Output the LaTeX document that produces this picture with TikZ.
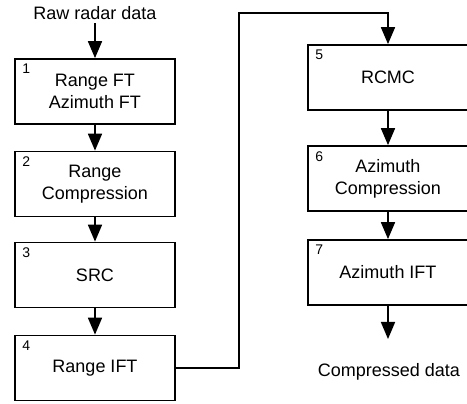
\documentclass[tikz,border=0pt]{standalone}
\usepackage{fontspec}
\setmainfont{Liberation Sans}
\usetikzlibrary{arrows.meta}

\tikzset{
  stepbox/.style={draw=black, line width=1.8pt, minimum width=160pt, minimum height=65pt,
    align=center, font=\fontsize{18}{22}\selectfont, inner sep=0pt},
  nr/.style={anchor=north west, font=\fontsize{14}{15}\selectfont, inner sep=0pt},
  flow/.style={draw=black, line width=1.8pt, -{Triangle[length=17pt,width=14pt]}},
}

\begin{document}
\begin{tikzpicture}[x=1pt, y=1pt]

\useasboundingbox (0,0) rectangle (467,-404);

% Entrada
\node[font=\fontsize{18}{22}\selectfont] (raw) at (95,-13) {Raw radar data};

% Columna izquierda
\node[stepbox] (b1) at (95,-91.5) {Range FT\\Azimuth FT};
\node[stepbox] (b2) at (95,-184) {Range\\Compression};
\node[stepbox] (b3) at (95,-275) {SRC};
\node[stepbox] (b4) at (95,-368) {Range IFT};

% Columna derecha
\node[stepbox] (b5) at (388,-77.5) {RCMC};
\node[stepbox] (b6) at (388,-178.5) {Azimuth\\Compression};
\node[stepbox] (b7) at (388,-272.5) {Azimuth IFT};

% Salida
\node[font=\fontsize{18}{22}\selectfont] (out) at (389,-372) {Compressed data};

% Numeros
\foreach \i in {1,...,7}
  \node[nr] (n\i) at ([xshift=8pt, yshift=-6pt]b\i.north west) {\i};

% Flechas
\draw[flow] (raw) -- (b1);
\draw[flow] (b1) -- (b2);
\draw[flow] (b2) -- (b3);
\draw[flow] (b3) -- (b4);
\coordinate (turn) at (239,-13);
\draw[flow] (b4.east) -| (turn) -| (b5.north);
\draw[flow] (b5) -- (b6);
\draw[flow] (b6) -- (b7);
\coordinate (outend) at (388,-339);
\draw[flow] (b7) -- (outend);

\end{tikzpicture}
\end{document}
